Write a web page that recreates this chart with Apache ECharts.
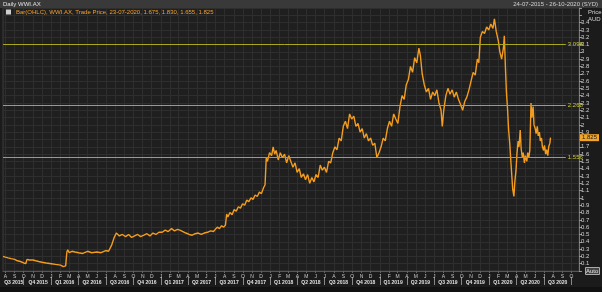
<!DOCTYPE html>
<html><head><meta charset="utf-8">
<script src="https://cdn.jsdelivr.net/npm/echarts@6/dist/echarts.min.js"></script>
<style>html,body{margin:0;padding:0;background:#1b1b1b;}#c{width:602px;height:292px;}</style>
</head><body><div id="c"></div>
<script>
// ---- data ----
const dates = [
'2015-07-24','2015-08-01','2015-08-10','2015-08-20','2015-09-01','2015-09-10','2015-09-20','2015-10-01','2015-10-08','2015-10-12','2015-10-20','2015-11-01','2015-11-10','2015-11-20','2015-12-01','2015-12-15',
'2016-01-01','2016-01-15','2016-02-01','2016-02-10','2016-02-18','2016-02-22','2016-02-25','2016-03-01','2016-03-10','2016-03-20','2016-04-01','2016-04-15','2016-05-01','2016-05-15','2016-06-01','2016-06-15','2016-07-01','2016-07-10','2016-07-20','2016-07-28','2016-08-05','2016-08-15','2016-08-25','2016-09-05','2016-09-15','2016-09-25','2016-10-05','2016-10-15','2016-10-25','2016-11-05','2016-11-15','2016-11-25','2016-12-05','2016-12-15','2016-12-25',
'2017-01-05','2017-01-15','2017-01-25','2017-02-05','2017-02-15','2017-02-25','2017-03-05','2017-03-15','2017-03-25','2017-04-05','2017-04-15','2017-04-25','2017-05-05','2017-05-15','2017-05-25','2017-06-05','2017-06-15','2017-06-25','2017-07-01','2017-07-08','2017-07-15','2017-07-22','2017-07-29','2017-08-04','2017-08-08','2017-08-12','2017-08-19','2017-08-26','2017-09-02','2017-09-09','2017-09-16','2017-09-23','2017-09-30','2017-10-07','2017-10-14','2017-10-21','2017-10-28','2017-11-04','2017-11-11','2017-11-18','2017-11-25','2017-12-02','2017-12-09','2017-12-14','2017-12-18','2017-12-22','2017-12-29',
'2018-01-05','2018-01-10','2018-01-15','2018-01-20','2018-01-27','2018-02-03','2018-02-10','2018-02-17','2018-02-24','2018-03-03','2018-03-10','2018-03-17','2018-03-24','2018-03-31','2018-04-07','2018-04-14','2018-04-21','2018-04-28','2018-05-05','2018-05-12','2018-05-19','2018-05-26','2018-06-02','2018-06-09','2018-06-16','2018-06-23','2018-06-30','2018-07-07','2018-07-14','2018-07-21','2018-07-28','2018-08-04','2018-08-11','2018-08-18','2018-08-25','2018-09-01','2018-09-08','2018-09-15','2018-09-22','2018-09-29','2018-10-06','2018-10-13','2018-10-20','2018-10-27','2018-11-03','2018-11-10','2018-11-17','2018-11-24','2018-12-01','2018-12-08','2018-12-15','2018-12-22','2018-12-29',
'2019-01-05','2019-01-12','2019-01-19','2019-01-26','2019-02-02','2019-02-09','2019-02-16','2019-02-23','2019-03-02','2019-03-09','2019-03-16','2019-03-23','2019-03-30','2019-04-06','2019-04-13','2019-04-20','2019-04-27','2019-05-04','2019-05-11','2019-05-16','2019-05-22','2019-05-29','2019-06-05','2019-06-12','2019-06-19','2019-06-26','2019-07-03','2019-07-10','2019-07-17','2019-07-24','2019-07-28','2019-08-02','2019-08-09','2019-08-16','2019-08-23','2019-08-30','2019-09-06','2019-09-13','2019-09-20','2019-09-27','2019-10-04','2019-10-11','2019-10-18','2019-10-25','2019-11-01','2019-11-08','2019-11-15','2019-11-22','2019-11-27','2019-12-02','2019-12-09','2019-12-16','2019-12-23','2019-12-30',
'2020-01-06','2020-01-13','2020-01-18','2020-01-24','2020-01-31','2020-02-05','2020-02-11','2020-02-17','2020-02-20','2020-02-24','2020-02-27','2020-03-02','2020-03-05','2020-03-09','2020-03-12','2020-03-16','2020-03-19','2020-03-23','2020-03-26','2020-03-30','2020-04-02','2020-04-06','2020-04-09','2020-04-13','2020-04-16','2020-04-20','2020-04-23','2020-04-27','2020-04-30','2020-05-05','2020-05-08','2020-05-12','2020-05-15','2020-05-19','2020-05-22','2020-05-26','2020-05-29','2020-06-02','2020-06-05','2020-06-09','2020-06-12','2020-06-16','2020-06-19','2020-06-23','2020-06-26','2020-06-30','2020-07-03','2020-07-07','2020-07-10','2020-07-14','2020-07-17','2020-07-21','2020-07-23'
];
const prices = [
0.20,0.19,0.18,0.17,0.16,0.14,0.13,0.11,0.10,0.16,0.15,0.15,0.14,0.13,0.12,0.11,
0.10,0.09,0.08,0.06,0.07,0.26,0.29,0.25,0.27,0.26,0.25,0.24,0.27,0.25,0.26,0.25,0.28,0.27,0.35,0.45,0.52,0.48,0.50,0.47,0.50,0.46,0.48,0.50,0.47,0.49,0.51,0.48,0.52,0.50,0.53,
0.53,0.56,0.54,0.58,0.55,0.57,0.56,0.54,0.52,0.50,0.49,0.51,0.52,0.50,0.52,0.53,0.55,0.54,0.57,0.60,0.58,0.62,0.60,0.63,0.78,0.74,0.80,0.77,0.84,0.82,0.88,0.86,0.92,0.90,0.97,0.95,1.00,0.98,1.04,1.02,1.08,1.06,1.14,1.18,1.55,1.50,1.62,
1.58,1.70,1.60,1.65,1.52,1.62,1.55,1.60,1.48,1.58,1.50,1.42,1.48,1.35,1.40,1.28,1.33,1.25,1.32,1.20,1.28,1.22,1.32,1.28,1.45,1.38,1.42,1.35,1.50,1.48,1.62,1.70,1.66,1.82,1.78,1.98,2.05,1.95,2.15,2.08,2.12,1.98,2.02,1.90,1.95,1.82,1.88,1.78,1.82,1.72,1.75,1.55,1.62,
1.70,1.82,1.78,1.95,2.05,1.98,2.15,2.08,2.02,2.25,2.40,2.35,2.55,2.62,2.80,2.72,2.92,2.85,3.05,2.95,2.70,2.55,2.45,2.50,2.35,2.45,2.40,2.48,2.30,2.20,1.98,2.20,2.40,2.50,2.42,2.48,2.38,2.45,2.35,2.28,2.20,2.32,2.38,2.48,2.60,2.72,2.68,2.90,2.85,3.20,3.28,3.25,3.34,3.30,
3.38,3.32,3.45,3.28,3.15,3.00,2.90,3.05,3.22,2.75,2.45,2.20,1.95,1.75,1.55,1.30,1.12,1.02,1.22,1.38,1.60,1.78,1.70,1.93,1.68,1.55,1.62,1.48,1.58,1.50,1.62,1.56,1.65,2.30,2.10,2.25,2.00,1.95,1.88,1.98,1.85,1.90,1.78,1.82,1.70,1.65,1.72,1.60,1.66,1.58,1.70,1.75,1.825
];
const levelValues = [3.098, 2.268, 1.556];
const levelLabels = ['3.098', '2.268', '1.556'];
const monthStarts = [
'2015-08-01','2015-09-01','2015-10-01','2015-11-01','2015-12-01',
'2016-01-01','2016-02-01','2016-03-01','2016-04-01','2016-05-01','2016-06-01','2016-07-01','2016-08-01','2016-09-01','2016-10-01','2016-11-01','2016-12-01',
'2017-01-01','2017-02-01','2017-03-01','2017-04-01','2017-05-01','2017-06-01','2017-07-01','2017-08-01','2017-09-01','2017-10-01','2017-11-01','2017-12-01',
'2018-01-01','2018-02-01','2018-03-01','2018-04-01','2018-05-01','2018-06-01','2018-07-01','2018-08-01','2018-09-01','2018-10-01','2018-11-01','2018-12-01',
'2019-01-01','2019-02-01','2019-03-01','2019-04-01','2019-05-01','2019-06-01','2019-07-01','2019-08-01','2019-09-01','2019-10-01','2019-11-01','2019-12-01',
'2020-01-01','2020-02-01','2020-03-01','2020-04-01','2020-05-01','2020-06-01','2020-07-01','2020-08-01','2020-09-01','2020-10-01'
];
const monthLetters = 'JFMAMJJASOND';
const quarterLabels = ['Q3 2015','Q4 2015','Q1 2016','Q2 2016','Q3 2016','Q4 2016','Q1 2017','Q2 2017','Q3 2017','Q4 2017','Q1 2018','Q2 2018','Q3 2018','Q4 2018','Q1 2019','Q2 2019','Q3 2019','Q4 2019','Q1 2020','Q2 2020','Q3 2020'];
const quarterMids = ['2015-08-29','2015-11-18','2016-02-15','2016-05-16','2016-08-16','2016-11-15','2017-02-14','2017-05-16','2017-08-16','2017-11-15','2018-02-14','2018-05-16','2018-08-16','2018-11-15','2019-02-14','2019-05-16','2019-08-16','2019-11-15','2020-02-15','2020-05-16','2020-08-16'];
const quarterStarts = ['2015-10-01','2016-01-01','2016-04-01','2016-07-01','2016-10-01','2017-01-01','2017-04-01','2017-07-01','2017-10-01','2018-01-01','2018-04-01','2018-07-01','2018-10-01','2019-01-01','2019-04-01','2019-07-01','2019-10-01','2020-01-01','2020-04-01','2020-07-01','2020-10-01'];
const xMin = '2015-07-24', xMax = '2020-10-26', levelEnd = '2020-09-12';
const lastPrice = 1.825;
const seriesName = 'Bar(OHLC), WWI.AX, Trade Price, 23-07-2020, 1.675, 1.830, 1.655, 1.825';

// ---- chart ----
const T = s => +echarts.time.parse(s);
const chart = echarts.init(document.getElementById('c'), null, {renderer: 'canvas'});
const FONT = 'Liberation Sans';
const qMap = {}; quarterMids.forEach((d, i) => qMap[T(d)] = quarterLabels[i]);
const mMap = {}; monthStarts.forEach(d => mMap[T(d)] = monthLetters[+d.slice(5, 7) - 1]);
const option = {
  backgroundColor: '#1b1b1b',
  animation: false,
  textStyle: {fontFamily: FONT},
  graphic: [
    {type: 'rect', shape: {x: 0, y: 0, width: 602, height: 8}, style: {fill: '#393939'}, z: 0},
    {type: 'rect', shape: {x: 0, y: 287, width: 602, height: 5}, style: {fill: '#111111'}, z: 0}
  ],
  title: [
    {text: 'Daily WWI.AX', left: 3, top: 1, padding: 0, textStyle: {fontSize: 6, color: '#e0e0e0', fontWeight: 'normal', fontFamily: FONT}},
    {text: '24-07-2015 - 26-10-2020 (SYD)', right: 4, top: 1, padding: 0, textStyle: {fontSize: 6, color: '#d0d0d0', fontWeight: 'normal', fontFamily: FONT}},
    {text: 'Price\nAUD', left: 588, top: 9, padding: 0, textStyle: {fontSize: 6, lineHeight: 7, color: '#d0d0d0', fontWeight: 'normal', fontFamily: FONT}},
    {text: 'Auto', left: 585, top: 267, padding: [1, 1], borderColor: '#aaaaaa', borderWidth: 1, backgroundColor: '#444', textStyle: {fontSize: 6, color: '#e0e0e0', fontWeight: 'normal', fontFamily: FONT}}
  ],
  legend: {
    left: 6, top: 9, padding: 0, itemWidth: 5, itemHeight: 5, itemGap: 2,
    icon: 'rect',
    textStyle: {fontSize: 6, color: '#f0a030', fontFamily: FONT},
    data: [{name: seriesName, itemStyle: {color: '#cfcfcf'}}]
  },
  grid: [{left: 3, right: 17, top: 8, bottom: 21, show: true, backgroundColor: '#1f1f1f', borderColor: '#3c3c3c', borderWidth: 1}],
  xAxis: [
    {
      type: 'time', min: T(xMin), max: T(xMax), splitNumber: 62,
      axisLine: {show: true, lineStyle: {color: '#555'}},
      axisTick: {show: false},
      axisLabel: {show: false},
      splitLine: {show: true, lineStyle: {color: '#2e2e2e', width: 1}}
    },
    {
      type: 'value', min: T(xMin), max: T(xMax), position: 'bottom',
      axisLine: {show: false},
      axisTick: {show: true, length: 2, lineStyle: {color: '#666'}, customValues: monthStarts.map(T)},
      axisLabel: {show: true, fontSize: 5, color: '#c8c8c8', margin: 3, customValues: monthStarts.map(T),
        formatter: v => mMap[v] || ''},
      splitLine: {show: false}
    },
    {
      type: 'value', min: T(xMin), max: T(xMax), position: 'bottom', offset: 6,
      axisLine: {show: false},
      axisTick: {show: true, length: 8, lineStyle: {color: '#888'}, customValues: quarterStarts.map(T)},
      axisLabel: {show: true, fontSize: 5, fontWeight: 'bold', color: '#e0e0e0', margin: 3, customValues: quarterMids.map(T),
        formatter: v => qMap[v] || ''},
      splitLine: {show: false}
    }
  ],
  yAxis: [
    {
      type: 'value', position: 'right', min: 0, max: 3.6, interval: 0.1,
      axisLine: {show: true, lineStyle: {color: '#777'}},
      axisTick: {show: true, length: 3, lineStyle: {color: '#999'}},
      axisLabel: {fontSize: 6, color: '#cfcfcf', margin: 2,
        formatter: v => (v > 0.05 && v < 3.45) ? String(+v.toFixed(1)) : ''},
      splitLine: {show: true, lineStyle: {color: '#2e2e2e', width: 1}}
    },
    {
      type: 'value', position: 'right', min: 0, max: 3.6,
      axisLine: {show: false}, axisTick: {show: false}, splitLine: {show: false},
      axisLabel: {show: true, customValues: [lastPrice], formatter: v => v.toFixed(3),
        fontSize: 6, color: '#1b1b1b', backgroundColor: '#f3a52a', padding: [1, 2, 0, 2], margin: 1}
    }
  ],
  series: [{
    name: seriesName,
    type: 'line',
    xAxisIndex: 0, yAxisIndex: 0,
    symbol: 'none',
    data: dates.map((d, i) => [T(d), prices[i]]),
    lineStyle: {color: '#f39c1e', width: 1.4},
    itemStyle: {color: '#f39c1e'},
    markLine: {
      silent: true, symbol: 'none',
      lineStyle: {color: '#a8a81c', width: 1, type: 'solid'},
      label: {show: true, position: 'end', distance: 2, align: 'left', color: '#c8c83c', fontSize: 6, fontFamily: FONT,
        formatter: p => levelLabels[levelValues.indexOf(p.value)] || p.value},
      data: levelValues.map(v => [{coord: [T(xMin), v]}, {coord: [T(levelEnd), v], value: v}])
    }
  }]
};
chart.setOption(option);
</script></body></html>
